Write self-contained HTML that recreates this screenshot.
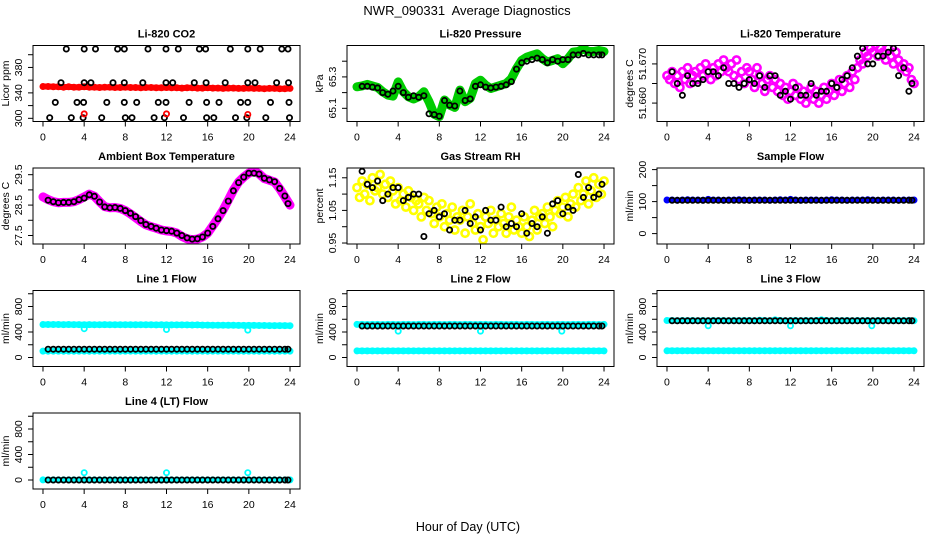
<!DOCTYPE html>
<html><head><meta charset="utf-8"><title>NWR_090331 Average Diagnostics</title>
<style>
html,body{margin:0;padding:0;background:#fff;}
svg{display:block;font-family:"Liberation Sans",Arial,sans-serif;}
</style></head>
<body>
<svg id="chart" width="936" height="540" viewBox="0 0 936 540" xmlns="http://www.w3.org/2000/svg">
<rect x="0" y="0" width="936" height="540" fill="#fff"/>
<text x="467" y="15" font-size="13" text-anchor="middle" style="white-space:pre">NWR_090331  Average Diagnostics</text>
<text x="468" y="531" font-size="12.5" text-anchor="middle">Hour of Day (UTC)</text>
</svg>
<script>
// ---- x data (hours) ----
const halfHours = [0,0.5,1,1.5,2,2.5,3,3.5,4,4.5,5,5.5,6,6.5,7,7.5,8,8.5,9,9.5,10,10.5,11,11.5,12,12.5,13,13.5,14,14.5,15,15.5,16,16.5,17,17.5,18,18.5,19,19.5,20,20.5,21,21.5,22,22.5,23,23.5,24];
const blackHours = [0.5,1,1.5,2,2.5,3,3.5,4,4.5,5,5.5,6,6.5,7,7.5,8,8.5,9,9.5,10,10.5,11,11.5,12,12.5,13,13.5,14,14.5,15,15.5,16,16.5,17,17.5,18,18.5,19,19.5,20,20.5,21,21.5,22,22.5,23,23.5,23.8];
const quarterHours = [0,0.25,0.5,0.75,1,1.25,1.5,1.75,2,2.25,2.5,2.75,3,3.25,3.5,3.75,4,4.25,4.5,4.75,5,5.25,5.5,5.75,6,6.25,6.5,6.75,7,7.25,7.5,7.75,8,8.25,8.5,8.75,9,9.25,9.5,9.75,10,10.25,10.5,10.75,11,11.25,11.5,11.75,12,12.25,12.5,12.75,13,13.25,13.5,13.75,14,14.25,14.5,14.75,15,15.25,15.5,15.75,16,16.25,16.5,16.75,17,17.25,17.5,17.75,18,18.25,18.5,18.75,19,19.25,19.5,19.75,20,20.25,20.5,20.75,21,21.25,21.5,21.75,22,22.25,22.5,22.75,23,23.25,23.5,23.75,24];
const xTicks = [0,4,8,12,16,20,24];
const dipHours = [4,12,19.9];

// ---- Li-820 CO2 ----
const co2Red = [350,350,349.5,349.5,349,349.5,349,349,349.5,349,349,348.5,349,349,348.5,348.5,349,348.5,348.5,348,348.5,348.5,348,348,348.5,348,348,347.5,348,348,347.5,347.5,348,347.5,347.5,347,347.5,347.5,347,347,347.5,347,347,346.5,347,347,346.5,346.5,347];
const co2BlackHours = [2.27,4.0,5.1,7.25,7.9,10.2,11.95,13.15,15.2,15.8,18.2,19.9,21.1,23.2,23.8,
 1.75,4.0,4.66,6.8,7.9,9.7,11.95,12.6,14.7,15.85,17.7,19.9,20.6,22.7,23.85,
 1.2,3.3,3.95,6.2,7.9,9.1,11.2,11.95,14.2,15.9,17.1,19.2,19.9,22.1,23.9,
 0.65,2.75,3.9,5.7,8.0,8.65,10.8,11.8,13.65,15.9,16.6,18.7,19.8,21.65,23.95];
const co2BlackValues = [409,409,409,409,409,409,409,409,409,409,409,409,409,409,409,
 356,356,356,356,356,356,356,356,356,356,356,356,356,356,356,
 325,325,325,325,325,325,325,325,325,325,325,325,325,325,325,
 301,301,301,301,301,301,301,301,301,301,301,301,301,301,301];
const co2RedOutHours = [4,12,19.9];
const co2RedOutValues = [307,307,306];

// ---- Li-820 Pressure ----
const pressGreen = [65.237,65.243,65.252,65.243,65.233,65.205,65.184,65.178,65.268,65.205,65.174,65.159,65.174,65.205,65.142,65.062,65.047,65.153,65.121,65.106,65.216,65.142,65.163,65.258,65.279,65.247,65.226,65.237,65.247,65.258,65.289,65.353,65.405,65.426,65.437,65.447,65.416,65.395,65.405,65.416,65.384,65.416,65.458,65.462,65.479,65.462,65.462,65.468,65.462];
const pressBlack = [65.24,65.24,65.235,65.23,65.2,65.19,65.21,65.24,65.2,65.17,65.18,65.17,65.18,65.065,65.06,65.05,65.15,65.12,65.115,65.21,65.15,65.16,65.24,65.25,65.235,65.23,65.235,65.24,65.25,65.27,65.35,65.39,65.4,65.41,65.42,65.41,65.39,65.41,65.4,65.41,65.41,65.44,65.44,65.45,65.44,65.44,65.44,65.44];

// ---- Li-820 Temperature ----
const liTempMagenta = [51.667,51.666,51.668,51.665,51.667,51.664,51.668,51.666,51.669,51.665,51.667,51.668,51.666,51.669,51.667,51.670,51.668,51.666,51.669,51.667,51.670,51.668,51.671,51.669,51.668,51.670,51.667,51.671,51.666,51.668,51.665,51.669,51.668,51.666,51.664,51.669,51.667,51.665,51.663,51.666,51.667,51.664,51.666,51.663,51.665,51.662,51.664,51.661,51.663,51.665,51.662,51.664,51.661,51.663,51.660,51.662,51.664,51.661,51.663,51.660,51.662,51.664,51.661,51.663,51.665,51.662,51.664,51.666,51.663,51.665,51.667,51.664,51.668,51.666,51.669,51.671,51.670,51.673,51.672,51.674,51.673,51.675,51.672,51.674,51.673,51.671,51.674,51.672,51.670,51.673,51.671,51.669,51.670,51.668,51.669,51.666,51.665];
const liTempBlack = [51.668,51.665,51.662,51.667,51.665,51.665,51.666,51.668,51.668,51.667,51.669,51.665,51.665,51.664,51.665,51.666,51.665,51.667,51.664,51.667,51.667,51.662,51.663,51.661,51.664,51.662,51.662,51.665,51.662,51.663,51.663,51.665,51.664,51.666,51.667,51.669,51.672,51.674,51.670,51.670,51.672,51.672,51.673,51.674,51.667,51.669,51.663,51.665];

// ---- Ambient Box Temperature ----
const ambMagenta = [28.77,28.68,28.61,28.58,28.59,28.59,28.61,28.68,28.77,28.86,28.79,28.61,28.45,28.41,28.42,28.39,28.32,28.21,28.09,27.96,27.85,27.79,27.74,27.68,27.65,27.63,27.58,27.47,27.39,27.36,27.38,27.45,27.58,27.82,28.07,28.34,28.66,28.99,29.26,29.42,29.55,29.62,29.53,29.37,29.32,29.26,29.04,28.77,28.50];
const ambBlack = [28.66,28.61,28.58,28.59,28.59,28.61,28.68,28.73,28.84,28.79,28.6,28.44,28.41,28.42,28.39,28.32,28.23,28.12,27.99,27.86,27.8,27.74,27.68,27.66,27.64,27.58,27.5,27.42,27.38,27.39,27.45,27.58,27.8,28.05,28.32,28.63,28.97,29.24,29.42,29.55,29.55,29.52,29.38,29.33,29.27,29.05,28.8,28.55];

// ---- Gas Stream RH ----
const rhYellow = [1.12,1.09,1.14,1.10,1.13,1.08,1.15,1.11,
 1.12,1.16,1.10,1.13,1.09,1.14,1.11,1.07,
 1.12,1.08,1.10,1.06,1.11,1.09,1.05,1.08,
 1.07,1.03,1.09,1.05,1.08,1.04,1.01,1.06,
 1.03,1.07,1.00,1.04,1.02,1.06,0.99,1.03,
 1.02,1.05,0.98,1.03,1.07,1.01,0.99,1.04,
 1.00,0.96,1.03,1.01,1.05,0.98,1.02,1.00,
 1.04,1.01,0.98,1.03,1.06,0.99,1.02,1.00,
 0.98,1.03,1.00,0.97,1.02,1.05,0.99,1.03,
 1.04,1.01,1.06,1.03,1.00,1.05,1.08,1.04,
 1.06,1.09,1.03,1.07,1.10,1.06,1.12,1.08,
 1.10,1.14,1.07,1.11,1.15,1.09,1.13,1.10,
 1.14];
const rhBlack = [1.17,1.13,1.12,1.14,1.08,1.10,1.12,1.12,1.08,1.09,1.10,1.10,0.97,1.04,1.05,1.03,1.04,0.99,1.02,1.02,1.05,1.01,1.03,0.99,1.05,1.02,1.02,1.06,1.00,1.01,1.00,1.04,0.98,1.01,1.00,1.03,0.98,1.07,1.08,1.04,1.06,1.05,1.16,1.09,1.12,1.09,1.10,1.13];

// ---- Sample Flow ----
const sampleBlue = [105,105,104,105,106,105,105,104,107,105,105,104,105,105,106,105,104,105,105,105,104,105,106,105,107,105,104,105,105,105,104,105,106,105,105,104,105,105,105,106,105,104,105,105,105,104,105,105,105];
const sampleBlack = [104,104,104,104,104,104,104,104,104,104,104,104,104,104,104,104,104,104,104,104,104,104,104,104,104,104,104,104,104,104,104,104,104,104,104,104,104,104,104,104,104,104,104,104,104,104,104,104];

// ---- Line flows ----
const line1Upper = [518,518,517,517,516,517,516,516,515,516,515,515,516,515,514,515,514,514,513,514,513,513,512,513,512,511,512,511,511,510,511,509,508,507,506,506,505,505,504,504,503,503,502,502,501,501,500,500,499];
const line1Lower = [100,99,100,100,99,100,99,100,100,99,100,100,99,100,100,99,100,100,100,99,100,100,99,100,100,99,100,100,100,99,100,100,99,100,100,99,100,100,100,99,100,100,99,100,100,99,100,100,100];
const line1Black = [130,130,130,130,130,130,130,130,130,130,130,130,130,130,130,130,130,130,130,130,130,130,130,130,130,130,130,130,130,130,130,130,130,130,130,130,130,130,130,130,130,130,130,130,130,130,130,130];
const line1Dips = [452,440,430];

const line2Upper = [519,519,518,519,519,518,519,519,518,519,519,518,519,519,518,519,519,518,519,519,518,519,519,518,519,519,518,519,519,518,519,519,518,519,519,518,519,519,518,519,519,518,519,519,518,519,519,518,519];
const line2Lower = [104,104,104,104,104,104,104,104,104,104,104,104,104,104,104,104,104,104,104,104,104,104,104,104,104,104,104,104,104,104,104,104,104,104,104,104,104,104,104,104,104,104,104,104,104,104,104,104,104];
const line2Black = [494,494,494,494,494,494,494,494,494,494,494,494,494,494,494,494,494,494,494,494,494,494,494,494,494,494,494,494,494,494,494,494,494,494,494,494,494,494,494,494,494,494,494,494,494,494,494,494];
const line2Dips = [415,415,415];

const line3Upper = [580,580,578,580,579,580,578,580,578,580,579,580,578,580,579,580,580,578,585,580,578,590,580,578,579,580,578,580,579,580,590,580,578,580,579,580,578,580,579,580,578,580,579,580,578,580,579,580,578];
const line3Lower = [105,105,105,105,105,105,105,105,105,105,105,105,105,105,105,105,105,105,105,105,105,105,105,105,105,105,105,105,105,105,105,105,105,105,105,105,105,105,105,105,105,105,105,105,105,105,105,105,105];
const line3Black = [576,576,576,576,576,576,576,576,576,576,576,576,576,576,576,576,576,576,576,576,576,576,576,576,576,576,576,576,576,576,576,576,576,576,576,576,576,576,576,576,576,576,576,576,576,576,576,576];
const line3Dips = [497,497,497];

const line4Cyan = [2,2,2,2,2,2,2,2,2,2,2,2,2,2,2,2,2,2,2,2,2,2,2,2,2,2,2,2,2,2,2,2,2,2,2,2,2,2,2,2,2,2,2,2,2,2,2,2,2];
const line4Black = [0,0,0,0,0,0,0,0,0,0,0,0,0,0,0,0,0,0,0,0,0,0,0,0,0,0,0,0,0,0,0,0,0,0,0,0,0,0,0,0,0,0,0,0,0,0,0,0];
const line4Dips = [115,115,115];

// ---- tick arrays ----
const co2Ticks = [300,320,340,360,380,400];
const co2Labels = ["300","","340","","380",""];
const pressTicks = [65.1,65.2,65.3,65.4];
const pressLabels = ["65.1","","65.3",""];
const liTempTicks = [51.655,51.660,51.665,51.670,51.675];
const liTempLabels = ["","51.660","","51.670",""];
const ambTicks = [27.5,28,28.5,29,29.5];
const ambLabels = ["27.5","","28.5","","29.5"];
const rhTicks = [0.95,1.0,1.05,1.1,1.15];
const rhLabels = ["0.95","","1.05","","1.15"];
const sampleTicks = [0,50,100,150,200];
const sampleLabels = ["0","","100","","200"];
const flowTicks = [0,200,400,600,800,1000];
const flowLabels = ["0","","400","","800",""];

// ---- layout ----
const NS = "http://www.w3.org/2000/svg";
const svg = document.getElementById('chart');
const colX = [33,347,657], boxW = 267, rowY = [45.5,168,290.5,413], boxH = 76;
const XMIN = -0.97, XMAX = 24.97;

function el(tag, attrs, parent){
  const e = document.createElementNS(NS, tag);
  for (const k in attrs) e.setAttribute(k, attrs[k]);
  (parent||svg).appendChild(e);
  return e;
}

function panel(cfg){
  const bx = colX[cfg.col], by = rowY[cfg.row];
  const g = el('g', {});
  
  
  const xs = h => bx + (h - XMIN) / (XMAX - XMIN) * boxW;
  const ys = v => by + boxH - (v - cfg.ymin) / (cfg.ymax - cfg.ymin) * boxH;

  const clipId = 'clip-' + cfg.name;
  const cp = el('clipPath', {id: clipId}, g);
  el('rect', {x: bx, y: by, width: boxW, height: boxH}, cp);
  const plot = el('g', {'clip-path': 'url(#' + clipId + ')'}, g);
  
  

  cfg.series.forEach(s => {
    const sg = el('g', {}, plot);
    
    
    if (s.band) {
      const pts = s.x.map((h, i) => xs(h).toFixed(1) + ',' + ys(s.y[i]).toFixed(1)).join(' ');
      const pl = el('polyline', {points: pts, fill: 'none', stroke: s.color, 'stroke-width': s.band, 'stroke-linejoin': 'round', 'stroke-linecap': 'round'}, sg);
      
      
    }
    s.x.forEach((h, i) => {
      const c = el('circle', {cx: xs(h).toFixed(1), cy: ys(s.y[i]).toFixed(1), r: s.r || 2.6, fill: 'none', stroke: s.color, 'stroke-width': s.sw || 1.8}, sg);
      
      
    });
  });

  const box = el('rect', {x: bx, y: by, width: boxW, height: boxH, fill: 'none', stroke: '#000', 'stroke-width': 1}, g);
  
  

  const xa = el('g', {}, g);
  
  
  xTicks.forEach(t => {
    const x = xs(t);
    el('line', {x1: x, x2: x, y1: by + boxH, y2: by + boxH + 5, stroke: '#000'}, xa);
    const tx = el('text', {x: x, y: by + boxH + 19, 'font-size': 10.5, 'text-anchor': 'middle'}, xa);
    
    
    tx.textContent = String(t);
  });

  const ya = el('g', {}, g);
  
  
  cfg.ticks.forEach((t, i) => {
    const y = ys(t);
    if (y < by - 0.5 || y > by + boxH + 0.5) return;
    el('line', {x1: bx - 5, x2: bx, y1: y, y2: y, stroke: '#000'}, ya);
    if (cfg.labels[i]) {
      const lx = bx - 11;
      const tx = el('text', {x: lx, y: y, 'font-size': 10.5, 'text-anchor': 'middle', transform: 'rotate(-90 ' + lx + ' ' + y + ')'}, ya);
      
      
      tx.textContent = cfg.labels[i];
    }
  });
  const tx2 = bx - 24, ty2 = by + boxH / 2;
  const yt = el('text', {x: tx2, y: ty2, 'font-size': 10.5, 'text-anchor': 'middle', transform: 'rotate(-90 ' + tx2 + ' ' + ty2 + ')'}, g);
  
  
  yt.textContent = cfg.ytitle;

  const tt = el('text', {x: bx + boxW / 2, y: by - 8, 'font-size': 11, 'font-weight': 'bold', 'text-anchor': 'middle'}, g);
  
  
  tt.textContent = cfg.title;
}

panel({name:'co2', col:0, row:0, title:'Li-820 CO2', ytitle:'Licor ppm', ymin:295, ymax:414.5, ticks:co2Ticks, labels:co2Labels,
  series:[
    {name:'co2-minute', x:halfHours, y:co2Red, color:'#ff0000', band:6},
    {name:'co2-average', x:co2BlackHours, y:co2BlackValues, color:'#000'},
    {name:'co2-outliers', x:co2RedOutHours, y:co2RedOutValues, color:'#ff0000'}
  ]});
panel({name:'pressure', col:1, row:0, title:'Li-820 Pressure', ytitle:'kPa', ymin:65.016, ymax:65.5, ticks:pressTicks, labels:pressLabels,
  series:[
    {name:'pressure-minute', x:halfHours, y:pressGreen, color:'#00cc00', band:9},
    {name:'pressure-average', x:blackHours, y:pressBlack, color:'#000'}
  ]});
panel({name:'li-temp', col:2, row:0, title:'Li-820 Temperature', ytitle:'degrees C', ymin:51.6553, ymax:51.6747, ticks:liTempTicks, labels:liTempLabels,
  series:[
    {name:'li-temp-minute', x:quarterHours, y:liTempMagenta, color:'#ff00ff', r:3.6, sw:2.6},
    {name:'li-temp-average', x:blackHours, y:liTempBlack, color:'#000'}
  ]});
panel({name:'ambient-temp', col:0, row:1, title:'Ambient Box Temperature', ytitle:'degrees C', ymin:27.22, ymax:29.72, ticks:ambTicks, labels:ambLabels,
  series:[
    {name:'ambient-minute', x:halfHours, y:ambMagenta, color:'#ff00ff', band:9},
    {name:'ambient-average', x:blackHours, y:ambBlack, color:'#000'}
  ]});
panel({name:'gas-rh', col:1, row:1, title:'Gas Stream RH', ytitle:'percent', ymin:0.947, ymax:1.18, ticks:rhTicks, labels:rhLabels,
  series:[
    {name:'rh-minute', x:quarterHours, y:rhYellow, color:'#ffff00', r:3.6, sw:2.6},
    {name:'rh-average', x:blackHours, y:rhBlack, color:'#000'}
  ]});
panel({name:'sample-flow', col:2, row:1, title:'Sample Flow', ytitle:'ml/min', ymin:-32.5, ymax:205, ticks:sampleTicks, labels:sampleLabels,
  series:[
    {name:'sample-minute', x:halfHours, y:sampleBlue, color:'#0000ff', band:5},
    {name:'sample-average', x:blackHours, y:sampleBlack, color:'#000'}
  ]});
panel({name:'line1-flow', col:0, row:2, title:'Line 1 Flow', ytitle:'ml/min', ymin:-141, ymax:1051, ticks:flowTicks, labels:flowLabels,
  series:[
    {name:'line1-upper', x:halfHours, y:line1Upper, color:'#00ffff', band:6},
    {name:'line1-lower', x:halfHours, y:line1Lower, color:'#00ffff', band:5},
    {name:'line1-dips', x:dipHours, y:line1Dips, color:'#00ffff'},
    {name:'line1-average', x:blackHours, y:line1Black, color:'#000'}
  ]});
panel({name:'line2-flow', col:1, row:2, title:'Line 2 Flow', ytitle:'ml/min', ymin:-141, ymax:1051, ticks:flowTicks, labels:flowLabels,
  series:[
    {name:'line2-upper', x:halfHours, y:line2Upper, color:'#00ffff', band:6},
    {name:'line2-lower', x:halfHours, y:line2Lower, color:'#00ffff', band:6},
    {name:'line2-dips', x:dipHours, y:line2Dips, color:'#00ffff'},
    {name:'line2-average', x:blackHours, y:line2Black, color:'#000'}
  ]});
panel({name:'line3-flow', col:2, row:2, title:'Line 3 Flow', ytitle:'ml/min', ymin:-141, ymax:1051, ticks:flowTicks, labels:flowLabels,
  series:[
    {name:'line3-upper', x:halfHours, y:line3Upper, color:'#00ffff', band:6},
    {name:'line3-lower', x:halfHours, y:line3Lower, color:'#00ffff', band:6},
    {name:'line3-dips', x:dipHours, y:line3Dips, color:'#00ffff'},
    {name:'line3-average', x:blackHours, y:line3Black, color:'#000'}
  ]});
panel({name:'line4-flow', col:0, row:3, title:'Line 4 (LT) Flow', ytitle:'ml/min', ymin:-141, ymax:1051, ticks:flowTicks, labels:flowLabels,
  series:[
    {name:'line4-minute', x:halfHours, y:line4Cyan, color:'#00ffff', band:5},
    {name:'line4-outliers', x:dipHours, y:line4Dips, color:'#00ffff'},
    {name:'line4-average', x:blackHours, y:line4Black, color:'#000'}
  ]});
</script>
</body></html>
